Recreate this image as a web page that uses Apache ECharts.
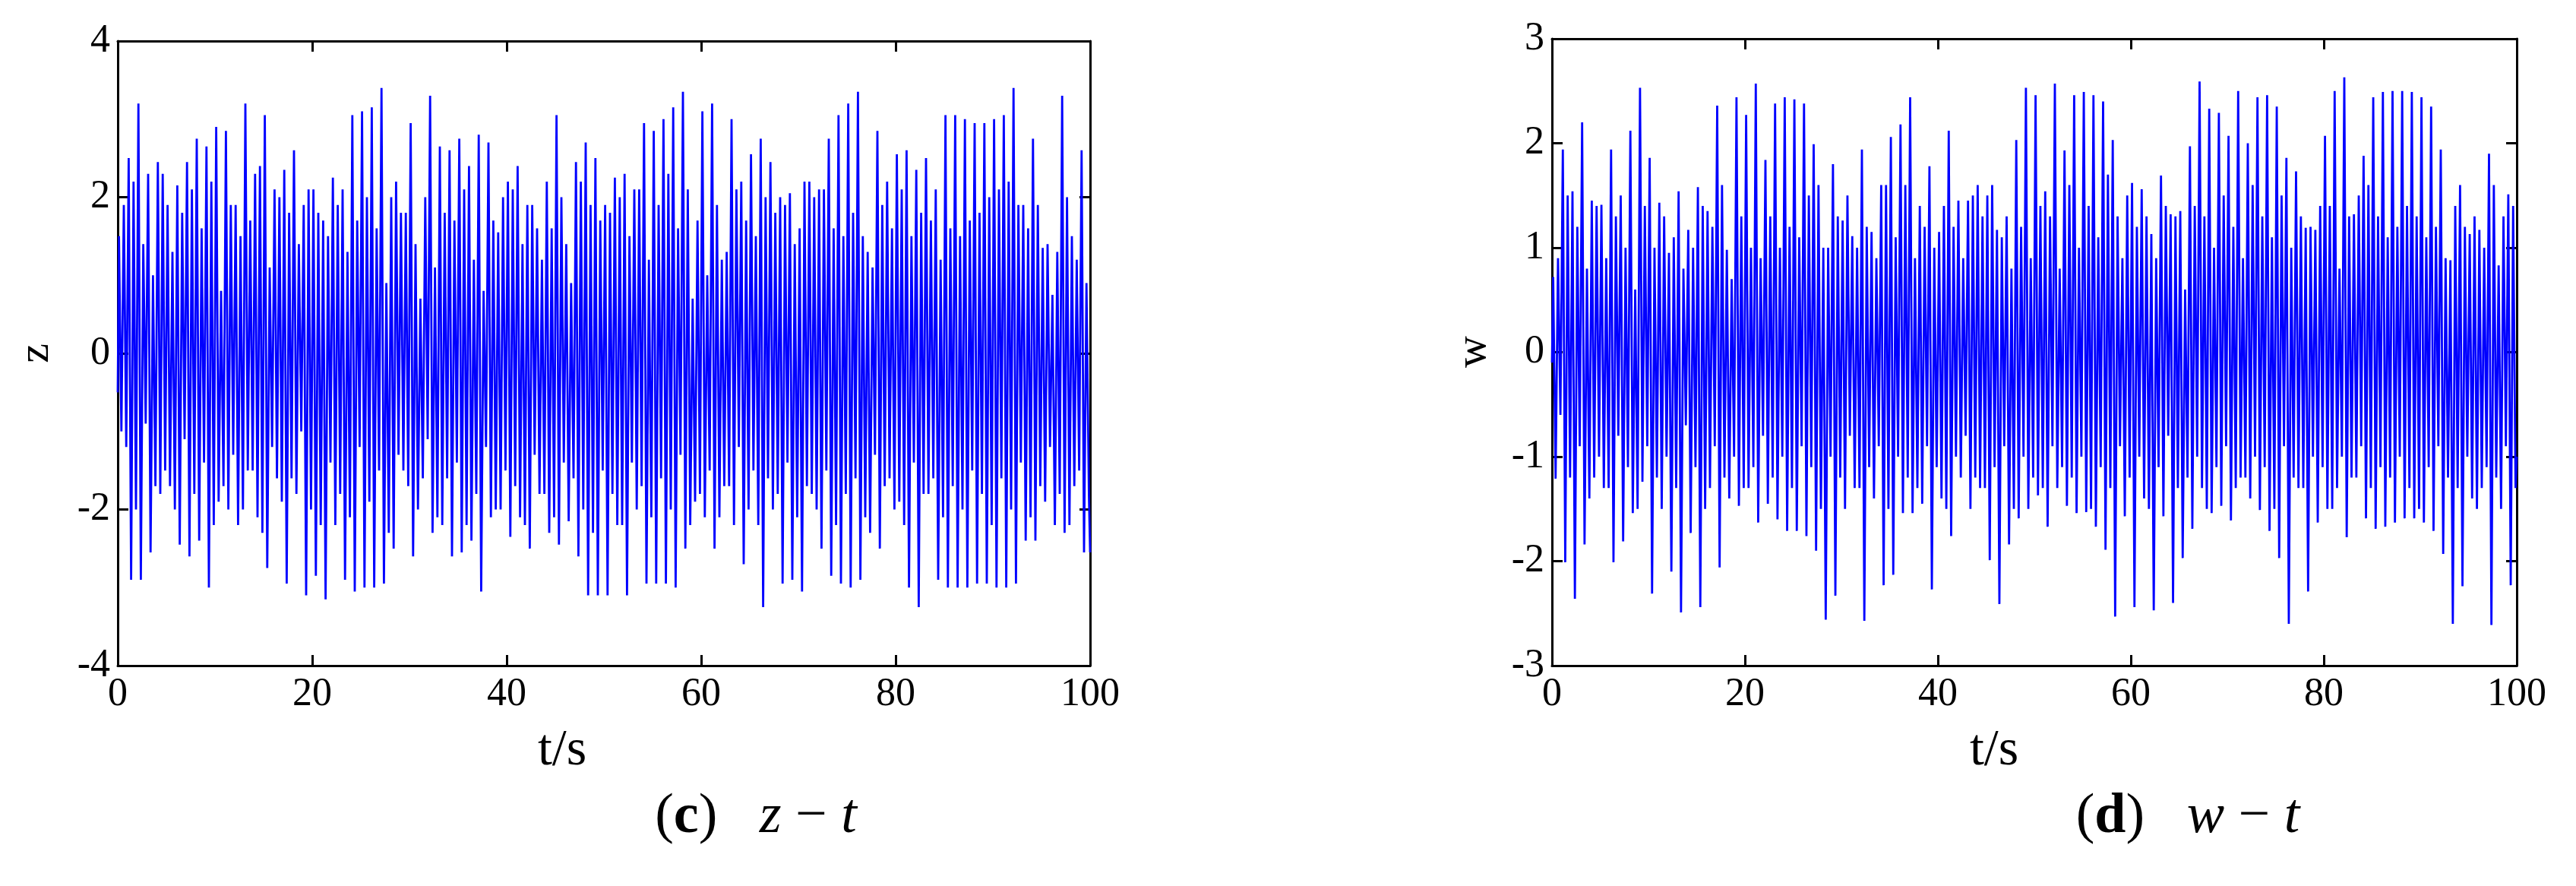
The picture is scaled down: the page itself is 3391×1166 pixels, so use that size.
<!DOCTYPE html>
<html>
<head>
<meta charset="utf-8">
<script src="https://cdn.jsdelivr.net/npm/echarts@6/dist/echarts.min.js"></script>
<style>
  html, body { margin: 0; padding: 0; background: #fff; }
  #box { width: 3391px; height: 1166px; }
</style>
</head>
<body>
<div id="box"></div>
<script>
// 数据：每秒读出的两个峰值和两个谷值（大峰/大谷 + 次峰/次谷）
const xRange = [0, 100];
const zRange = [-4, 4];
const wRange = [-3, 3];

const zPeakA = [1.5, 2.5, 3.2, 2.3, 2.45, 1.9, 2.15, 2.45, 2.75, 2.65,
  2.9, 2.85, 1.9, 3.2, 2.3, 3.05, 2.1, 2.35, 2.6, 1.9,
  2.1, 1.7, 2.25, 2.1, 3.05, 3.1, 3.15, 3.4, 2.0, 1.8,
  2.95, 0.7, 3.3, 2.65, 2.6, 2.75, 2.4, 2.8, 2.7, 1.55,
  2.2, 2.4, 1.9, 1.6, 2.2, 3.05, 1.4, 2.45, 2.7, 2.5,
  1.9, 2.25, 2.3, 2.1, 2.95, 2.85, 3.0, 3.15, 3.35, 0.7,
  3.1, 3.2, 1.2, 3.0, 2.2, 2.55, 2.75, 2.45, 2.0, 2.05,
  1.6, 2.2, 2.1, 2.75, 3.05, 3.2, 3.35, 1.3, 2.85, 2.2,
  2.55, 2.6, 2.35, 2.5, 2.1, 3.05, 3.05, 3.0, 2.95, 2.95,
  3.0, 3.05, 3.4, 1.9, 2.75, 1.35, 0.75, 3.3, 1.5, 2.6];
const zPeakB = [1.9, 2.2, 1.4, 1.0, 2.3, 1.3, 1.8, 2.1, 1.6, 2.2,
  0.8, 1.9, 1.5, 1.7, 2.4, 1.1, 2.0, 1.8, 1.4, 2.1,
  1.8, 1.5, 1.9, 1.3, 1.7, 2.0, 1.6, 0.9, 2.2, 1.8,
  1.4, 2.0, 1.1, 1.8, 1.7, 2.1, 1.2, 0.8, 1.7, 2.0,
  2.1, 1.4, 1.9, 1.2, 1.6, 2.0, 0.9, 2.2, 1.9, 1.7,
  1.8, 2.0, 1.5, 2.1, 1.2, 1.9, 2.3, 1.6, 2.1, 1.7,
  1.0, 1.9, 1.3, 2.1, 1.7, 1.5, 2.0, 1.8, 1.9, 1.4,
  2.2, 2.0, 2.1, 1.6, 1.5, 1.8, 1.5, 1.1, 1.9, 1.6,
  2.1, 1.5, 1.8, 1.7, 1.2, 1.6, 1.5, 1.7, 1.8, 2.0,
  2.1, 2.2, 1.9, 1.6, 1.9, 1.4, 1.3, 2.0, 1.2, 0.9];
const zTroughA = [-1.0, -2.9, -2.9, -2.55, -1.8, -1.7, -2.45, -2.6, -2.4, -3.0,
  -1.9, -2.0, -2.2, -1.5, -2.1, -2.75, -1.6, -2.95, -1.8, -3.1,
  -2.85, -3.15, -2.2, -2.9, -3.05, -3.0, -3.0, -2.95, -2.5, -1.5,
  -2.6, -1.6, -2.3, -2.2, -2.6, -2.55, -2.4, -3.05, -2.1, -2.0,
  -2.35, -2.1, -2.5, -1.8, -2.3, -2.45, -2.15, -2.6, -3.1, -3.1,
  -3.1, -2.2, -3.1, -2.0, -2.95, -2.95, -2.95, -3.0, -2.5, -1.9,
  -2.1, -2.5, -1.7, -2.2, -2.7, -1.5, -3.25, -2.0, -2.95, -2.9,
  -3.05, -1.8, -2.5, -2.85, -2.95, -3.0, -2.9, -2.3, -2.5, -1.6,
  -1.9, -3.0, -3.25, -1.8, -2.9, -3.0, -3.0, -3.0, -2.95, -2.95,
  -3.0, -3.0, -2.95, -2.4, -2.4, -1.9, -2.2, -2.3, -1.7, -2.55];
const zTroughB = [-1.2, -2.0, -0.9, -1.7, -1.5, -2.0, -1.1, -1.8, -1.4, -2.2,
  -1.7, -1.3, -2.0, -1.5, -2.3, -1.2, -1.9, -1.6, -1.0, -2.0,
  -2.2, -1.4, -1.8, -2.1, -1.2, -1.9, -1.5, -2.3, -1.3, -1.7,
  -2.0, -1.1, -2.1, -1.6, -1.4, -2.2, -1.8, -1.2, -2.0, -1.5,
  -1.7, -2.2, -1.3, -1.8, -2.1, -1.4, -1.6, -2.0, -2.3, -1.5,
  -1.8, -2.2, -1.4, -1.7, -2.1, -1.6, -2.0, -1.3, -2.2, -1.8,
  -1.5, -2.1, -1.7, -1.2, -2.0, -2.2, -1.6, -1.8, -1.4, -2.1,
  -1.7, -2.0, -1.5, -2.2, -1.8, -1.6, -2.1, -1.3, -1.7, -2.0,
  -2.2, -1.4, -1.8, -1.6, -2.1, -1.7, -2.0, -1.5, -1.8, -2.2,
  -1.6, -2.0, -1.4, -2.1, -1.7, -1.2, -1.8, -2.2, -1.5, -1.8];

const wPeakA = [0.72, 1.94, 1.54, 2.2, 1.45, 1.41, 1.94, 1.5, 2.12, 2.53,
  1.86, 1.43, 0.95, 1.54, 1.17, 1.58, 1.35, 2.36, 0.98, 2.44,
  2.27, 2.57, 1.84, 2.38, 2.44, 2.42, 2.38, 1.99, 1.0, 1.8,
  1.26, 1.11, 1.94, 1.15, 1.6, 2.06, 2.18, 2.44, 1.4, 1.78,
  1.15, 2.12, 1.45, 1.45, 1.6, 1.5, 1.17, 1.3, 2.03, 2.53,
  2.46, 1.54, 2.57, 1.93, 2.46, 2.49, 2.46, 2.4, 2.03, 0.9,
  1.62, 1.56, 1.13, 1.69, 1.32, 1.35, 1.97, 2.59, 2.33, 2.29,
  2.07, 2.5, 2.0, 2.44, 2.46, 2.35, 1.86, 1.73, 1.19, 1.17,
  2.07, 2.5, 2.63, 1.32, 1.88, 2.44, 2.49, 2.5, 2.5, 2.49,
  2.44, 2.35, 1.94, 0.88, 1.6, 1.13, 1.17, 1.9, 0.83, 1.51];
const wPeakB = [0.9, 1.5, 1.2, 0.8, 1.4, 0.9, 1.3, 1.0, 0.6, 1.4,
  1.0, 1.3, 1.1, 0.8, 1.0, 1.4, 1.2, 1.6, 0.7, 1.3,
  1.0, 0.9, 1.3, 1.0, 1.2, 1.1, 1.5, 1.6, 1.0, 1.3,
  1.5, 1.0, 1.2, 0.9, 1.6, 1.1, 1.6, 0.9, 1.2, 1.0,
  1.4, 1.2, 0.9, 1.5, 1.3, 1.6, 1.1, 0.8, 1.2, 0.9,
  1.4, 1.3, 0.8, 1.6, 1.0, 1.4, 1.1, 1.7, 1.3, 1.5,
  1.2, 1.3, 0.9, 1.4, 1.3, 0.6, 1.4, 1.3, 1.0, 1.5,
  1.2, 0.9, 1.6, 1.3, 1.1, 1.5, 1.0, 1.3, 1.2, 1.4,
  1.4, 0.8, 1.3, 1.5, 1.6, 1.3, 1.1, 1.2, 1.4, 1.3,
  1.1, 1.2, 0.9, 1.4, 1.2, 1.3, 1.0, 1.6, 1.3, 1.4];
const wTroughA = [-1.21, -2.01, -2.36, -1.84, -1.2, -1.3, -2.01, -1.81, -1.54, -1.24,
  -2.31, -1.5, -2.1, -2.49, -1.73, -2.44, -1.3, -2.06, -1.4, -1.47,
  -1.3, -1.63, -1.45, -1.6, -1.71, -1.71, -1.76, -1.9, -2.56, -2.33,
  -1.5, -1.3, -2.57, -1.4, -2.23, -2.13, -1.54, -1.54, -1.45, -2.27,
  -1.4, -1.76, -1.2, -1.5, -1.3, -1.99, -2.41, -1.84, -1.59, -1.5,
  -1.37, -1.67, -1.3, -1.47, -1.54, -1.53, -1.67, -1.89, -2.53, -1.57,
  -2.44, -1.4, -2.47, -1.57, -2.4, -1.97, -1.69, -1.3, -1.54, -1.47,
  -1.61, -1.2, -1.4, -1.51, -1.71, -1.97, -2.6, -1.3, -2.29, -1.63,
  -1.5, -1.3, -1.77, -1.2, -1.59, -1.69, -1.67, -1.63, -1.59, -1.59,
  -1.63, -1.71, -1.93, -2.6, -2.24, -1.4, -1.3, -2.61, -1.5, -2.23];
const wTroughB = [-0.6, -1.2, -0.9, -1.4, -1.0, -1.3, -0.8, -1.1, -1.5, -0.9,
  -1.2, -1.0, -1.3, -0.7, -1.1, -1.5, -0.9, -1.2, -1.0, -1.3,
  -1.1, -0.8, -1.2, -1.0, -1.3, -0.9, -1.1, -1.5, -1.0, -1.2,
  -0.8, -1.3, -1.1, -0.9, -1.5, -1.0, -1.2, -1.3, -0.9, -1.1,
  -1.5, -1.0, -0.8, -1.2, -1.3, -1.1, -0.9, -1.5, -1.0, -1.2,
  -1.3, -0.9, -1.1, -1.2, -1.0, -1.5, -1.1, -1.3, -0.9, -1.2,
  -1.0, -1.5, -1.1, -0.8, -1.3, -1.2, -1.0, -1.5, -1.1, -0.9,
  -1.3, -1.2, -1.0, -1.1, -1.5, -0.9, -1.2, -1.3, -1.0, -1.1,
  -1.5, -1.0, -1.2, -0.9, -1.3, -1.1, -1.2, -1.0, -1.3, -1.5,
  -1.1, -0.9, -1.2, -1.3, -1.0, -1.5, -1.1, -1.2, -0.9, -1.3];

const zStart = -0.5, zEnd = -2.55;
const wStart = -0.1, wEnd = -1.0;

// 把每秒的峰谷拼成折线点
function buildTrace(start, end, peakA, troughA, peakB, troughB) {
  const pts = [[0, start]];
  for (let k = 0; k < peakA.length; k++) {
    pts.push([k + 0.125, peakA[k]]);
    pts.push([k + 0.375, troughA[k]]);
    pts.push([k + 0.625, peakB[k]]);
    pts.push([k + 0.875, troughB[k]]);
  }
  pts.push([100, end]);
  return pts;
}

const FONT = 'Liberation Serif, Times New Roman, serif';
const black = '#000';

function xAxisPair(gridIndex) {
  const base = {
    gridIndex, type: 'value', min: xRange[0], max: xRange[1], interval: 20,
    splitLine: { show: false },
    axisLine: { show: true, onZero: false, lineStyle: { color: black, width: 3 } },
    axisTick: { show: true, inside: true, length: 14, lineStyle: { color: black, width: 3 } }
  };
  return [
    { ...base, position: 'bottom',
      axisLabel: { color: black, fontFamily: FONT, fontSize: 52, margin: 12 } },
    { ...base, position: 'top', axisLabel: { show: false } }
  ];
}

function yAxisPair(gridIndex, range, interval) {
  const base = {
    gridIndex, type: 'value', min: range[0], max: range[1], interval,
    splitLine: { show: false },
    axisLine: { show: true, onZero: false, lineStyle: { color: black, width: 3 } },
    axisTick: { show: true, inside: true, length: 14, lineStyle: { color: black, width: 3 } }
  };
  return [
    { ...base, position: 'left',
      axisLabel: { color: black, fontFamily: FONT, fontSize: 52, margin: 10 } },
    { ...base, position: 'right', axisLabel: { show: false } }
  ];
}

const myChart = echarts.init(document.getElementById('box'));

const capRich = {
  b: { fontWeight: 'bold', fontSize: 74, fontFamily: FONT },
  i: { fontStyle: 'italic', fontSize: 74, fontFamily: FONT }
};

const option = {
  animation: false,
  backgroundColor: '#fff',
  grid: [
    { left: 155, top: 54, width: 1280, height: 822 },
    { left: 2043, top: 51, width: 1270, height: 825 }
  ],
  xAxis: [...xAxisPair(0), ...xAxisPair(1)],
  yAxis: [...yAxisPair(0, zRange, 2), ...yAxisPair(1, wRange, 1)],
  series: [
    {
      type: 'line', xAxisIndex: 0, yAxisIndex: 0, showSymbol: false,
      lineStyle: { color: '#0000ff', width: 2.8 },
      data: buildTrace(zStart, zEnd, zPeakA, zTroughA, zPeakB, zTroughB)
    },
    {
      type: 'line', xAxisIndex: 2, yAxisIndex: 2, showSymbol: false,
      lineStyle: { color: '#0000ff', width: 2.8 },
      data: buildTrace(wStart, wEnd, wPeakA, wTroughA, wPeakB, wTroughB)
    }
  ],
  graphic: [
    { type: 'text', x: 48, y: 465, rotation: Math.PI / 2,
      style: { text: 'z', font: '58px ' + FONT, fill: black, align: 'center', verticalAlign: 'middle' } },
    { type: 'text', x: 1940, y: 463, rotation: Math.PI / 2,
      style: { text: 'w', font: '58px ' + FONT, fill: black, align: 'center', verticalAlign: 'middle' } },
    { type: 'text', x: 740, y: 988,
      style: { text: 't/s', font: '68px ' + FONT, fill: black, align: 'center', verticalAlign: 'middle' } },
    { type: 'text', x: 2625, y: 988,
      style: { text: 't/s', font: '68px ' + FONT, fill: black, align: 'center', verticalAlign: 'middle' } },
    { type: 'text', x: 995, y: 1076,
      style: {
        text: '({b|c})   {i|z} \u2212 {i|t}', font: '74px ' + FONT, fill: black,
        align: 'center', verticalAlign: 'middle', rich: capRich
      } },
    { type: 'text', x: 2880, y: 1076,
      style: {
        text: '({b|d})   {i|w} \u2212 {i|t}', font: '74px ' + FONT, fill: black,
        align: 'center', verticalAlign: 'middle', rich: capRich
      } }
  ]
};

myChart.setOption(option);
</script>
</body>
</html>
